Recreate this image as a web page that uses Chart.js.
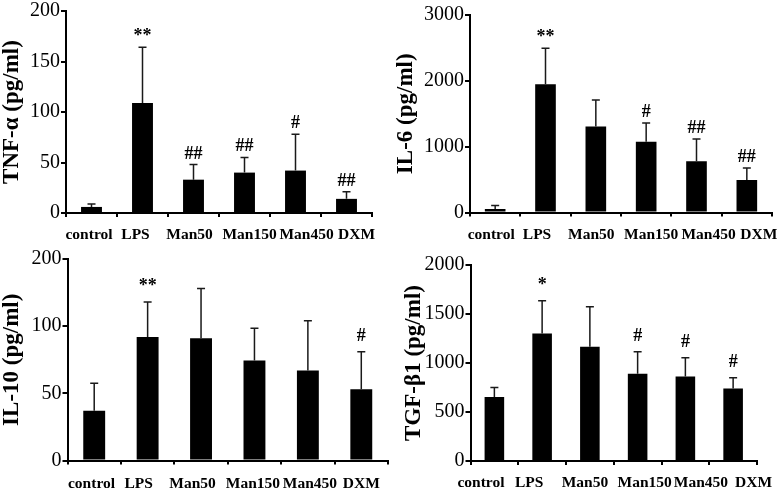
<!DOCTYPE html>
<html><head><meta charset="utf-8">
<script src="https://cdn.jsdelivr.net/npm/chart.js@4.4.1/dist/chart.umd.min.js"></script>
<style>
html,body{margin:0;padding:0;background:#fff;width:782px;height:493px;overflow:hidden}
canvas{position:absolute}
</style></head><body>
<canvas id="c1" width="391" height="246" style="left:0;top:0"></canvas>
<canvas id="c2" width="391" height="246" style="left:391px;top:0"></canvas>
<canvas id="c3" width="391" height="247" style="left:0;top:246px"></canvas>
<canvas id="c4" width="391" height="247" style="left:391px;top:246px"></canvas>
<script>
// ---- data ----
const categories = ['control', 'LPS', 'Man50', 'Man150', 'Man450', 'DXM'];

const tnfValues = [6, 109, 33, 40, 42, 14];
const tnfErrors = [3, 55, 15, 15, 36, 7];
const tnfMarks  = ['', '**', '##', '##', '#', '##'];
const tnfTicks  = ['0', '50', '100', '150', '200'];

const il6Values = [55, 1950, 1305, 1075, 780, 495];
const il6Errors = [50, 545, 405, 285, 335, 180];
const il6Marks  = ['', '**', '', '#', '##', '##'];
const il6Ticks  = ['0', '1000', '2000', '3000'];

const il10Values = [37, 92, 91, 74.5, 67, 53];
const il10Errors = [20.5, 26, 37, 24, 37, 28];
const il10Marks  = ['', '**', '', '', '', '#'];
const il10Ticks  = ['0', '50', '100', '200'];

const tgfValues = [654, 1302, 1166, 890, 863, 740];
const tgfErrors = [96, 334, 409, 225, 190, 109];
const tgfMarks  = ['', '*', '', '#', '#', '#'];
const tgfTicks  = ['0', '500', '1000', '1500', '2000'];

// ---- drawing ----
const SERIF = '"Liberation Serif", "Times New Roman", serif';

const errorBarPlugin = {
  id: 'errbars',
  afterDatasetsDraw(chart, args, opts) {
    const ctx = chart.ctx;
    const meta = chart.getDatasetMeta(0);
    const y = chart.scales.y;
    const vals = chart.data.datasets[0].data;
    ctx.save();
    meta.data.forEach((bar, i) => {
      const top = y.getPixelForValue(vals[i] + opts.errors[i]);
      const base = y.getPixelForValue(vals[i]);
      ctx.strokeStyle = '#1a1a1a';
      ctx.lineWidth = 1.5;
      ctx.beginPath();
      ctx.moveTo(bar.x, base);
      ctx.lineTo(bar.x, top);
      ctx.moveTo(bar.x - 4, top);
      ctx.lineTo(bar.x + 4, top);
      ctx.stroke();
      if (opts.marks[i]) {
        ctx.fillStyle = '#000';
        ctx.font = 'bold 18px ' + SERIF;
        ctx.textAlign = 'center';
        ctx.textBaseline = 'alphabetic';
        ctx.fillText(opts.marks[i], bar.x, top - opts.gap);
      }
    });
    // category labels, nudged as in the source figure
    const xs = chart.scales.x;
    ctx.fillStyle = '#000';
    ctx.font = 'bold 15.5px ' + SERIF;
    ctx.textAlign = 'center';
    ctx.textBaseline = 'middle';
    chart.data.labels.forEach((lab, i) => {
      ctx.fillText(lab, xs.getPixelForValue(i) + opts.shifts[i], xs.top + opts.labelY);
    });
    ctx.restore();
  }
};

function makePanel(id, values, errors, marks, tickLabels, title, L) {
  new Chart(document.getElementById(id), {
    type: 'bar',
    data: {
      labels: categories,
      datasets: [{
        data: values,
        backgroundColor: '#000',
        borderWidth: 0,
        barPercentage: 0.41,
        categoryPercentage: 1
      }]
    },
    options: {
      responsive: false,
      animation: false,
      devicePixelRatio: 1,
      layout: { padding: { top: L.top, right: L.right, bottom: 0, left: 0 } },
      plugins: {
        legend: { display: false },
        tooltip: { enabled: false },
        errbars: { errors: errors, marks: marks, gap: L.gap, shifts: L.shifts, labelY: L.labelY }
      },
      scales: {
        x: {
          offset: true,
          grid: { display: true, drawOnChartArea: false, drawTicks: true, tickLength: 4, color: '#000', lineWidth: 2, offset: true },
          border: { display: true, color: '#000', width: 2 },
          ticks: { display: false, autoSkip: false, maxRotation: 0, minRotation: 0 },
          afterFit(s) { s.height = L.xh; }
        },
        y: {
          min: 0, max: L.max,
          grid: { display: true, drawOnChartArea: false, drawTicks: true, tickLength: 5, color: '#000', lineWidth: 2 },
          border: { display: true, color: '#000', width: 2 },
          ticks: {
            stepSize: L.step, color: '#000', padding: 1,
            font: { family: SERIF, size: 20, lineHeight: 1 },
            callback: (v, i) => tickLabels[i]
          },
          title: {
            display: true, text: title, color: '#000',
            padding: { top: L.tpad, bottom: 0 },
            font: { family: SERIF, size: 23, weight: 'bold', lineHeight: 1 }
          },
          afterFit(s) { s.width = L.left; }
        }
      }
    },
    plugins: [errorBarPlugin]
  });
}

makePanel('c1', tnfValues, tnfErrors, tnfMarks, tnfTicks, 'TNF-α (pg/ml)',
  { left: 66, top: 11, right: 19, xh: 33, max: 200, step: 50, tpad: 1, gap: 6,
    labelY: 22, shifts: [-2.5, -7, -4, 5, 11, 10] });
makePanel('c2', il6Values, il6Errors, il6Marks, il6Ticks, 'IL-6 (pg/ml)',
  { left: 79, top: 15, right: 10, xh: 33.5, max: 3000, step: 1000, tpad: 3.5, gap: 6,
    labelY: 22, shifts: [-4, -8.5, -4.5, 5, 12, 12] });
makePanel('c3', il10Values, il10Errors, il10Marks, il10Ticks, 'IL-10 (pg/ml)',
  { left: 67.5, top: 13, right: 3, xh: 32.5, max: 150, step: 50, tpad: 1, gap: 11,
    labelY: 23.5, shifts: [-2.7, -9, -8.5, -1.5, 2, 0] });
makePanel('c4', tgfValues, tgfErrors, tgfMarks, tgfTicks, 'TGF-β1 (pg/ml)',
  { left: 79.5, top: 19, right: 25, xh: 32, max: 2000, step: 500, tpad: 11.5, gap: 11,
    labelY: 22.3, shifts: [-13.4, -13, -5, 7, 15.6, 20.4] });
</script>
</body></html>
